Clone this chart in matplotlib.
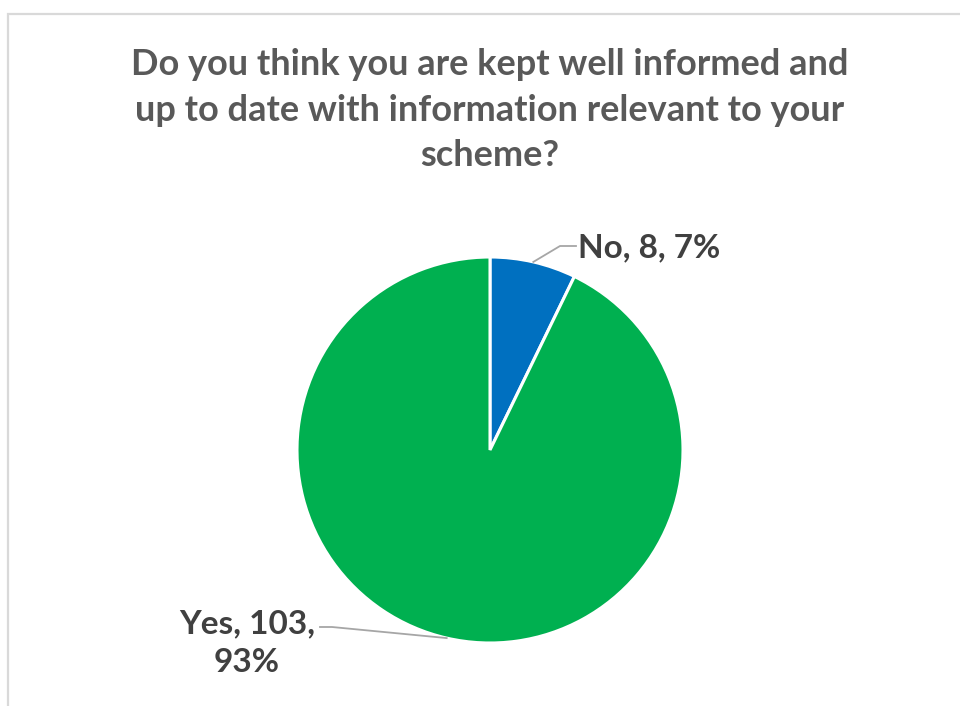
import numpy as np
import matplotlib
matplotlib.use("Agg")
import matplotlib.pyplot as plt
from matplotlib.patches import Rectangle

plt.rcParams['font.family'] = ['Lato', 'DejaVu Sans']

categories = ["No", "Yes"]
counts = [8, 103]
colors = ["#0070C0", "#00B050"]
title = "Do you think you are kept well informed and\nup to date with information relevant to your\nscheme?"

W, H = 960, 706
fig = plt.figure(figsize=(W / 100, H / 100), dpi=100)
fig.patch.set_facecolor("white")

# chart frame (left and top edges visible)
fig.add_artist(Rectangle((8 / W, -0.2), 1.2, (H - 14) / H + 0.2, transform=fig.transFigure,
                         fill=False, edgecolor="#d9d9d9", linewidth=1.6))

cx, cy, r = 490, 450, 193
ax = fig.add_axes([(cx - r) / W, (H - cy - r) / H, 2 * r / W, 2 * r / H])
wedges, _ = ax.pie(counts, colors=colors, startangle=90, counterclock=False,
                   radius=1.0, wedgeprops=dict(edgecolor="white", linewidth=2.2))
ax.set_xlim(-1, 1)
ax.set_ylim(-1, 1)
ax.set_aspect("equal")
ax.axis("off")

fig.text(cx / W, 1 - 48 / H, title, ha="center", va="top", fontsize=26,
         fontweight="bold", color="#595959", linespacing=1.47)

total = sum(counts)
leader_color = "#a6a6a6"
label_color = "#404040"

def to_data(px, py):
    return (px - cx) / r, (cy - py) / r

for w, cat, n in zip(wedges, categories, counts):
    pct = round(100 * n / total)
    theta = np.deg2rad((w.theta1 + w.theta2) / 2)
    ax_, ay_ = np.cos(theta), np.sin(theta)
    if cat == "No":
        ex, ey = to_data(560, 246)
        tx, ty = to_data(576, 246)
        ax.plot([ax_, ex, tx], [ay_, ey, ty], color=leader_color, lw=1.3, clip_on=False)
        ax.text(tx + 0.01, ty - 0.01, f"{cat}, {n}, {pct}%", ha="left", va="center",
                fontsize=24, fontweight="bold", color=label_color, clip_on=False)
    else:
        ex, ey = to_data(332, 627)
        tx, ty = to_data(320, 627)
        ax.plot([ax_, ex, tx], [ay_, ey, ty], color=leader_color, lw=1.3, clip_on=False)
        lx, ly = to_data(247, 643)
        ax.text(lx, ly, f"{cat}, {n},\n{pct}%", ha="center", va="center",
                fontsize=24, fontweight="bold", color=label_color, clip_on=False,
                linespacing=1.4)

fig.savefig("out.png", dpi=100, facecolor="white")
